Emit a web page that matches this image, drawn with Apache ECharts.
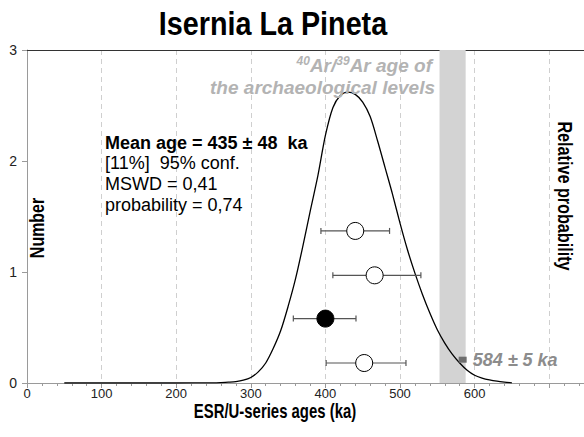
<!DOCTYPE html>
<html>
<head>
<meta charset="utf-8">
<style>html,body{margin:0;padding:0;background:#fff;}#c{width:584px;height:437px;}</style>
<script src="https://cdn.jsdelivr.net/npm/echarts@6/dist/echarts.min.js"></script>
</head>
<body>
<div id="c"></div>
<script>
// ---- data ----
const titleText = 'Isernia La Pineta';
const xTicks = [0, 100, 200, 300, 400, 500, 600];
const yTicks = [0, 1, 2, 3];
// probability density curve (ka, relative height on 0..3 scale)
const curveAge  = [50, 100, 150, 200, 250, 260, 270, 280, 290, 300, 310, 320, 330, 340, 350, 360, 370, 380, 390, 400, 410, 420, 430, 440, 450, 460, 470, 480, 490, 500, 510, 520, 530, 540, 550, 560, 570, 580, 590, 600, 610, 620, 630, 640, 650];
const curveProb = [0, 0, 0, 0, 0.002, 0.004, 0.007, 0.012, 0.025, 0.05, 0.1, 0.18, 0.31, 0.47, 0.69, 0.94, 1.24, 1.56, 1.87, 2.23, 2.48, 2.59, 2.62, 2.6, 2.53, 2.4, 2.18, 1.94, 1.7, 1.44, 1.2, 0.99, 0.8, 0.63, 0.48, 0.36, 0.26, 0.18, 0.115, 0.07, 0.045, 0.028, 0.016, 0.008, 0.002];
// individual ESR/U-series ages with 2-sigma bars
const pointAge    = [440, 466, 400, 452];
const pointLow    = [394, 410, 357, 401];
const pointHigh   = [486, 528, 441, 508];
const pointRow    = [1.37, 0.97, 0.58, 0.18];
const pointFilled = [false, false, true, false];
// 40Ar/39Ar reference age
const arBand = [553, 588];
const arAge = 584;
const arRow = 0.21;
const arLabel = '584 ± 5 ka';
const statLines = ['Mean age = 435 ± 48  ka', '[11%]  95% conf.', 'MSWD = 0,41', 'probability = 0,74'];

const chart = echarts.init(document.getElementById('c'), null, {renderer: 'svg'});
const G = {left: 27, top: 50, width: 559.5, height: 333};
const sans = '"Liberation Sans", Arial, sans-serif';

const option = {
  animation: false,
  grid: {left: G.left, top: G.top, width: G.width, height: G.height, containLabel: false, outerBoundsMode: 'none'},
  xAxis: [{
    type: 'value', min: 0, max: 750, interval: 100,
    axisLine: {show: true, onZero: false, lineStyle: {color: '#9a9a9a', width: 1}},
    axisTick: {show: true, length: 5, lineStyle: {color: '#9a9a9a'}},
    minorTick: {show: true, splitNumber: 5, length: 3, lineStyle: {color: '#9a9a9a'}},
    axisLabel: {color: '#222', fontSize: 13, fontFamily: sans, margin: 4,
      formatter: v => xTicks.indexOf(v) >= 0 ? String(v) : ''},
    splitLine: {show: true, lineStyle: {color: '#cfcfcf', type: [5, 4], width: 1}}
  }, {
    type: 'value', min: 0, max: 750, position: 'top',
    axisLine: {show: true, onZero: false, lineStyle: {color: '#333', width: 1.2}},
    axisTick: {show: false}, axisLabel: {show: false}, splitLine: {show: false}
  }],
  yAxis: {
    type: 'value', min: 0, max: 3, interval: 1,
    axisLine: {show: true, lineStyle: {color: '#9a9a9a'}},
    axisTick: {show: true, length: 5, lineStyle: {color: '#9a9a9a'}},
    axisLabel: {color: '#222', fontSize: 14, fontFamily: sans, margin: 10,
      formatter: v => yTicks.indexOf(v) >= 0 ? String(v) : ''},
    splitLine: {show: false}
  },
  series: [
    {
      type: 'line', name: 'band', data: [], silent: true, z: 1,
      markArea: {silent: true, itemStyle: {color: '#d3d3d3', opacity: 1},
        data: [[{xAxis: arBand[0], yAxis: 0}, {xAxis: arBand[1], yAxis: 3}]]}
    },
    {
      type: 'line', name: 'curve', z: 3,
      data: curveAge.map((a, i) => [a, curveProb[i]]),
      smooth: 0.3, showSymbol: false, symbol: 'none',
      lineStyle: {color: '#000', width: 1.3}
    },
    {
      type: 'custom', name: 'errors', z: 4,
      data: pointAge.map((a, i) => [pointLow[i], pointHigh[i], pointRow[i]]),
      renderItem: (params, api) => {
        const p1 = api.coord([api.value(0), api.value(2)]);
        const p2 = api.coord([api.value(1), api.value(2)]);
        const st = {stroke: '#555', lineWidth: 1.2};
        return {type: 'group', children: [
          {type: 'line', shape: {x1: p1[0], y1: p1[1], x2: p2[0], y2: p2[1]}, style: st},
          {type: 'line', shape: {x1: p1[0], y1: p1[1] - 3, x2: p1[0], y2: p1[1] + 3}, style: st},
          {type: 'line', shape: {x1: p2[0], y1: p2[1] - 3, x2: p2[0], y2: p2[1] + 3}, style: st}
        ]};
      }
    },
    {
      type: 'scatter', name: 'ages', z: 5, symbol: 'circle', symbolSize: 17,
      emphasis: {disabled: true},
      data: pointAge.map((a, i) => ({value: [a, pointRow[i]],
        itemStyle: {color: pointFilled[i] ? '#000' : '#fff', borderColor: '#000', borderWidth: 1, opacity: 1}}))
    },
    {
      type: 'scatter', name: 'ar', z: 5, symbol: 'rect', symbolSize: [8, 6],
      itemStyle: {color: '#6e6e6e', opacity: 1},
      data: [[arAge, arRow]],
      label: {show: true, position: 'right', distance: 6, formatter: arLabel,
        color: '#8c8c8c', fontSize: 18, fontWeight: 'bold', fontStyle: 'italic', fontFamily: sans}
    }
  ],
  graphic: [
    {type: 'text', z: 10, x: 273, y: 24, scaleX: 0.845, style: {text: titleText, x: 0, y: 0, align: 'center', verticalAlign: 'middle',
      font: 'bold 34px ' + sans, fill: '#000'}},
    {type: 'text', z: 10, x: 275, y: 411, scaleX: 0.71, style: {text: 'ESR/U-series ages (ka)', x: 0, y: 0, align: 'center', verticalAlign: 'middle',
      font: 'bold 21px ' + sans, fill: '#000'}},
    {type: 'text', z: 10, x: 37, y: 228, rotation: Math.PI / 2, scaleX: 0.76, style: {text: 'Number', x: 0, y: 0, align: 'center', verticalAlign: 'middle',
      font: 'bold 21px ' + sans, fill: '#000'}},
    {type: 'text', z: 10, x: 565, y: 196, rotation: -Math.PI / 2, scaleX: 0.77, style: {text: 'Relative probability', x: 0, y: 0, align: 'center', verticalAlign: 'middle',
      font: 'bold 21px ' + sans, fill: '#000'}},
    {type: 'text', z: 10, style: {text: statLines[0], x: 105, y: 143, align: 'left', verticalAlign: 'middle',
      font: 'bold 18px ' + sans, fill: '#000'}},
    {type: 'text', z: 10, style: {text: statLines.slice(1).join('\n'), x: 105, y: 153, align: 'left', verticalAlign: 'top',
      font: '18px ' + sans, lineHeight: 20.7, fill: '#000'}},
    {type: 'text', z: 10, style: {
      text: '{s|40}{t|Ar/}{s|39}{t|Ar age of}', x: 432, y: 65, align: 'right', verticalAlign: 'middle',
      rich: {
        t: {font: 'italic bold 19px ' + sans, fill: '#b3b3b3', verticalAlign: 'bottom'},
        s: {font: 'italic bold 12px ' + sans, fill: '#b3b3b3', verticalAlign: 'top', padding: [0, 0, 8, 0]}
      }}},
    {type: 'text', z: 10, style: {text: 'the archaeological levels', x: 435, y: 87, align: 'right', verticalAlign: 'middle',
      font: 'italic bold 19px ' + sans, fill: '#b3b3b3'}}
  ]
};
chart.setOption(option);
</script>
</body>
</html>
